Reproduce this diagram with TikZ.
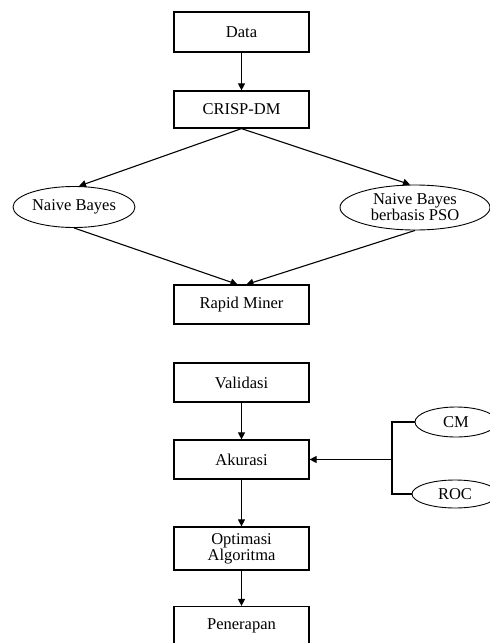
\documentclass[tikz,border=0pt]{standalone}
\usepackage{fontspec}
\setmainfont{Liberation Serif}
\usetikzlibrary{arrows.meta,shapes.geometric,calc}
\begin{document}
\begin{tikzpicture}[x=1pt,y=-1pt,
  every node/.style={font=\fontsize{16.5}{14.5}\selectfont},
  box/.style={draw,line width=1.2pt,rectangle,minimum width=135pt,inner sep=0pt,align=center},
  oval/.style={draw,line width=0.9pt,ellipse,inner sep=0pt,align=center},
  conn/.style={line width=1.1pt},
  arr/.style={conn,-{Triangle[length=7pt,width=7pt]}}]
\useasboundingbox (0,0) rectangle (490,643);
\node[box,minimum height=40pt] (data) at (241.5,32) {Data};
\node[box,minimum height=37pt] (crisp) at (241.5,109.5) {CRISP-DM};
\node[oval,minimum width=122pt,minimum height=41pt] (nb) at (74,207) {Naive Bayes};
\node[oval,minimum width=150pt,minimum height=45pt] (pso) at (415,207.5) {Naive Bayes\\berbasis PSO};
\node[box,minimum height=39pt] (rapid) at (241.5,304.5) {Rapid Miner};
\node[box,minimum height=39pt] (valid) at (241.5,382.5) {Validasi};
\node[box,minimum height=39pt] (akur) at (241.5,459.5) {Akurasi};
\node[box,minimum height=43pt] (opt) at (241.5,548.5) {Optimasi\\Algoritma};
\node[box,minimum height=39pt] (pen) at (241.5,626) {Penerapan};
\node[oval,minimum width=82pt,minimum height=30pt] (cm) at (456,422) {CM};
\node[oval,minimum width=86pt,minimum height=28pt] (roc) at (455,494) {ROC};
\coordinate (br) at (392,459.5);
\draw[arr] (data) -- (crisp);
\draw[arr] (crisp.south) -- ($(nb.north)+(5,0)$);
\draw[arr] (crisp.south) -- ($(pso.north)+(-5,0)$);
\draw[arr] (nb.south) -- ($(rapid.north)+(-4,0)$);
\draw[arr] (pso.south) -- ($(rapid.north)+(5,0)$);
\draw[arr] (valid) -- (akur);
\draw[arr] (akur) -- (opt);
\draw[arr] (opt) -- (pen);
\draw[conn] (cm.west) -- (cm.west -| br) -- (roc.west -| br) -- (roc.west);
\draw[arr] (br) -- (akur.east);
\end{tikzpicture}
\end{document}
